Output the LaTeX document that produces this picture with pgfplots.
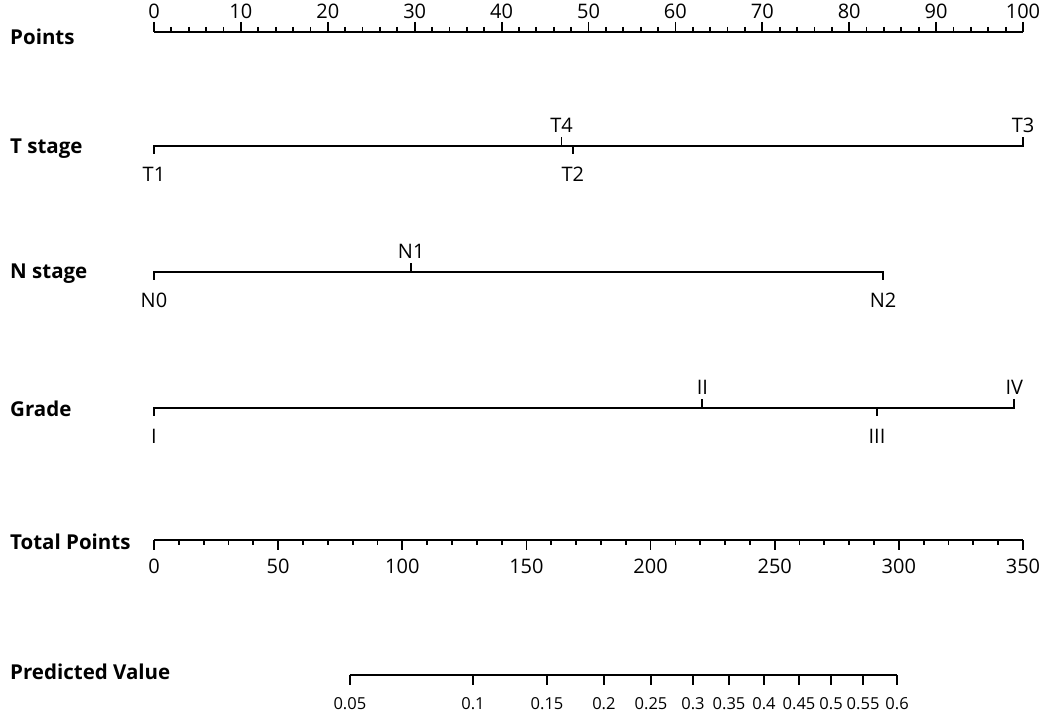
\documentclass[border=0pt]{standalone}
\usepackage{fontspec}
\setmainfont{Open Sans}
\usepackage{pgfplots}
\pgfplotsset{compat=1.18}
\pgfdeclareplotmark{tup}{\pgfpathmoveto{\pgfpointorigin}\pgfpathlineto{\pgfpoint{0pt}{\pgfplotmarksize}}\pgfusepathqstroke}
\pgfdeclareplotmark{tdown}{\pgfpathmoveto{\pgfpointorigin}\pgfpathlineto{\pgfpoint{0pt}{-\pgfplotmarksize}}\pgfusepathqstroke}
\pgfplotsset{
  nomo/.style={scale only axis, hide y axis, ymin=0, ymax=1, height=1pt,
    every tick/.style={line width=1.8pt, black},
    tick label style={font=\fontsize{20}{20}\selectfont},
    /pgf/number format/assume math mode=true,
    major tick length=10pt, minor tick length=5pt},
  fixline/.style={x axis line style={-, line width=1.8pt},
    every outer x axis line/.append style={-},
    axis line style={-, line width=1.8pt},
    xtick align=outside},
  up/.style={only marks, mark=tup, mark size=9pt, mark options={line width=1.8pt},
    nodes near coords, point meta=explicit symbolic,
    nodes near coords style={anchor=base, yshift=14pt, inner sep=0pt, font=\fontsize{20}{20}\selectfont}},
  down/.style={only marks, mark=tdown, mark size=8pt, mark options={line width=1.8pt},
    nodes near coords, point meta=explicit symbolic,
    nodes near coords style={anchor=north, yshift=-20pt, inner sep=0pt, font=\fontsize{20}{20}\selectfont}},
  catline/.style={line width=1.8pt, line cap=rect},
}
\newcommand{\lab}{\bfseries\fontsize{20.5}{20.5}\selectfont}
\begin{document}
\begin{tikzpicture}
\useasboundingbox (0pt,0pt) rectangle (1053pt,717pt);
% Points scale
\begin{axis}[nomo, at={(154pt,685pt)}, anchor=north west, width=869pt,
  xmin=0, xmax=100, axis x line=top, fixline, xtick distance=10, minor x tick num=4]
\end{axis}
% Total points scale
\begin{axis}[nomo, at={(154pt,177pt)}, anchor=south west, width=869pt,
  xmin=0, xmax=350, axis x line=bottom, fixline, xtick distance=50, minor x tick num=4,
  xticklabel style={yshift=-5pt}]
\end{axis}
% Predicted value scale (positions in total points)
\begin{axis}[nomo, at={(349.9pt,42pt)}, anchor=south west, width=547.2pt,
  xmin=78.9, xmax=299.3, axis x line=bottom, fixline,
  xtick={78.9,128.5,158.3,181.2,200.2,217.1,231.6,245.7,259.8,272.7,285.6,299.3},
  xticklabels={0.05,0.1,0.15,0.2,0.25,0.3,0.35,0.4,0.45,0.5,0.55,0.6},
  xticklabel style={font=\fontsize{16.5}{16.5}\selectfont, yshift=-9pt}]
\end{axis}
% Categorical rows
\begin{axis}[at={(154pt,0pt)}, anchor=south west, scale only axis, width=869pt, height=717pt,
  xmin=0, xmax=100, ymin=0, ymax=717, y dir=reverse, hide axis, clip=false]
% T stage
\addplot[catline] coordinates {(0,146) (100,146)};
\addplot[up] coordinates {(46.9,146)[T4] (100,146)[T3]};
\addplot[down] coordinates {(0,146)[T1] (48.2,146)[T2]};
% N stage
\addplot[catline] coordinates {(0,272) (83.9,272)};
\addplot[up] coordinates {(29.6,272)[N1]};
\addplot[down] coordinates {(0,272)[N0] (83.9,272)[N2]};
% Grade
\addplot[catline] coordinates {(0,408) (99.0,408)};
\addplot[up] coordinates {(63.1,408)[II] (99.0,408)[IV]};
\addplot[down] coordinates {(0,408)[I] (83.2,408)[III]};
% Row labels
\node[anchor=base west, inner sep=0pt, font=\lab] at (axis cs:-16.57,45) {Points};
\node[anchor=base west, inner sep=0pt, font=\lab] at (axis cs:-16.57,153) {T stage};
\node[anchor=base west, inner sep=0pt, font=\lab] at (axis cs:-16.57,278) {N stage};
\node[anchor=base west, inner sep=0pt, font=\lab] at (axis cs:-16.57,416) {Grade};
\node[anchor=base west, inner sep=0pt, font=\lab] at (axis cs:-16.57,549) {Total Points};
\node[anchor=base west, inner sep=0pt, font=\lab] at (axis cs:-16.57,679) {Predicted Value};
\end{axis}
\end{tikzpicture}
\end{document}
